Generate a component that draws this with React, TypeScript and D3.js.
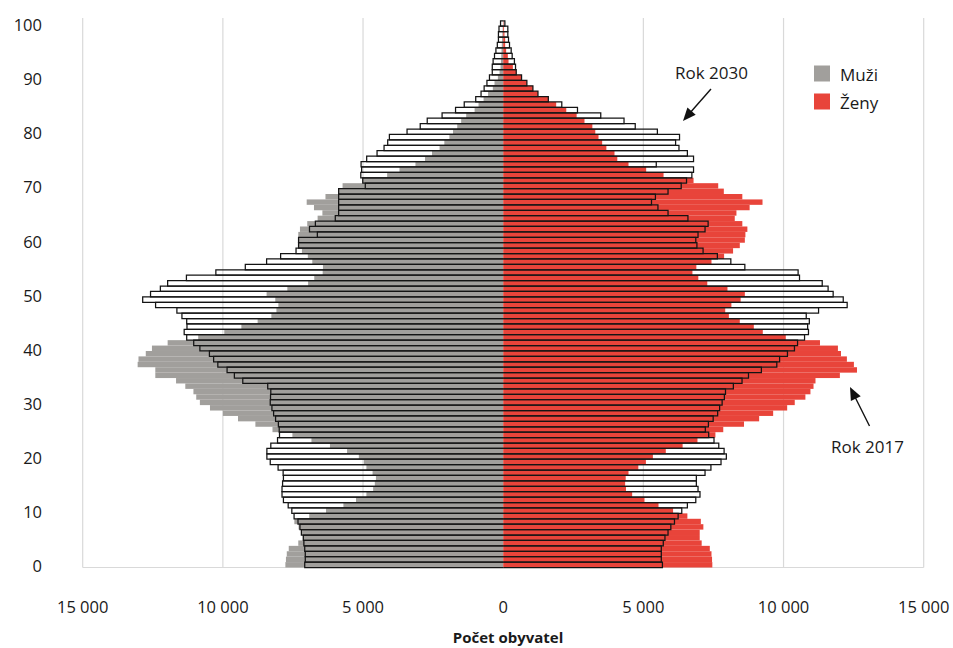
import React from "react";
import * as d3 from "d3";

// ---------- data (index = age 0..100) ----------
const ages: number[] = Array.from({ length: 101 }, (_, i) => i);

const men2017: number[] = [
  7770, 7750, 7720, 7650, 7310, 7150, 7200, 7300, 7450, 6920,
  6320, 5700, 5250, 4880, 4640, 4580, 4540, 4660, 4880, 4970,
  5150, 5570, 6180, 6840, 7520, 8230, 8840, 9460, 10000, 10460,
  10820, 10950, 11050, 11340, 11670, 12410, 12410, 13040, 13010, 12750,
  12530, 11970, 10880, 9950, 9340, 8760, 8270, 8090, 8020, 8130,
  8440, 7700, 6960, 6740, 6440, 6430, 6810, 6970, 7180, 7310,
  7310, 7310, 7250, 6990, 6620, 6450, 6750, 7010, 6340, 5870,
  5730, 5010, 4140, 3700, 3130, 2790, 2540, 2270, 2100, 1920,
  1790, 1640, 1500, 1320, 1020, 880, 700, 540, 370, 310,
  190, 130, 95, 80, 70, 60, 50, 40, 30, 20, 10,
];

const men2030: number[] = [
  7080, 7060, 7060, 7080, 7110, 7130, 7200, 7250, 7320, 7460,
  7540, 7670, 7840, 7890, 7890, 7870, 7840, 7850, 8030, 8310,
  8430, 8430, 8290, 8050, 7980, 7990, 8020, 8120, 8190, 8250,
  8310, 8300, 8290, 8400, 9290, 9590, 9850, 10180, 10330, 10480,
  10820, 11040, 11290, 11380, 11280, 11290, 11460, 11640, 12400, 12860,
  12580, 12230, 11970, 11300, 10250, 9200, 8440, 7940, 7390, 7300,
  7300, 6630, 6910, 6700, 5990, 5870, 5870, 5870, 5870, 5870,
  4920, 5010, 5080, 5050, 5070, 4870, 4500, 4250, 4120, 4060,
  3430, 2960, 2710, 2180, 1700, 1390, 980, 790, 680, 580,
  490, 390, 390, 360, 310, 260, 210, 170, 170, 150, 95,
];

const women2017: number[] = [
  7460, 7450, 7430, 7370, 7080, 7010, 7010, 7140, 7050, 6570,
  6060, 5540, 5040, 4600, 4380, 4350, 4370, 4470, 4820, 5090,
  5340, 5800, 6400, 6930, 7570, 7850, 8590, 9130, 9630, 10130,
  10400, 10780, 10960, 11070, 11140, 12010, 12620, 12510, 12260, 12050,
  11940, 11300, 10080, 9260, 8940, 8440, 8050, 7920, 8140, 8470,
  8620, 8000, 7280, 6960, 6750, 6890, 7430, 7880, 8200, 8440,
  8620, 8640, 8710, 8530, 8260, 8320, 8790, 9250, 8530, 7870,
  7670, 6790, 5720, 5100, 4470, 4070, 3970, 3680, 3530, 3400,
  3285, 3180, 2900, 2620, 2250, 1890, 1605, 1240, 1060, 845,
  655, 465, 345, 190, 165, 105, 70, 70, 45, 30, 15,
];

const women2030: number[] = [
  5680, 5640, 5640, 5640, 5710, 5770, 5880, 5980, 6110, 6240,
  6370, 6570, 6870, 7020, 6950, 6890, 6890, 7200, 7410, 7770,
  7960, 7880, 7690, 7520, 7330, 7210, 7320, 7490, 7650, 7720,
  7810, 7890, 7930, 8210, 8520, 8750, 9210, 9760, 9860, 10140,
  10390, 10500, 10750, 10890, 10860, 10920, 10810, 11250, 12270, 12130,
  11770, 11590, 11380, 10570, 10520, 8620, 8120, 7640, 7130, 6910,
  6870, 6950, 7200, 7310, 6590, 5880, 5520, 5290, 5430, 5880,
  6350, 6540, 6730, 6790, 5460, 6790, 6570, 6270, 6150, 6290,
  5500, 4710, 4310, 3480, 2650, 2090, 1610, 1240, 1060, 845,
  655, 465, 440, 400, 320, 285, 225, 190, 165, 165, 60,
];

const yTickValues: number[] = [0, 10, 20, 30, 40, 50, 60, 70, 80, 90, 100];
const xTickValues: number[] = [-15000, -10000, -5000, 0, 5000, 10000, 15000];
const xTickLabels: string[] = ["15 000", "10 000", "5 000", "0", "5 000", "10 000", "15 000"];
const gridValues: number[] = [-15000, -10000, -5000, 5000, 10000, 15000];

const legendItems = [
  { label: "Muži", color: "#a19f9c" },
  { label: "Ženy", color: "#e8443a" },
];

const FONT = "'Open Sans', 'Noto Sans', sans-serif";

export default function App() {
  const W = 953;
  const H = 648;
  const x = d3.scaleLinear().domain([-15000, 15000]).range([82.7, 923.7]);
  const y = d3
    .scaleBand<number>()
    .domain([...ages].reverse())
    .range([20.8, 567.5])
    .padding(0);
  const bw = y.bandwidth();
  const x0 = x(0);
  const grey = legendItems[0].color;
  const red = legendItems[1].color;

  // open outline (no edge on the zero axis)
  const outline = (xe: number, top: number) => {
    const p = d3.path();
    p.moveTo(x0, top);
    p.lineTo(xe, top);
    p.lineTo(xe, top + bw);
    p.lineTo(x0, top + bw);
    return p.toString();
  };

  const arrowHead = (tx: number, ty: number, fx: number, fy: number) => {
    const ang = Math.atan2(ty - fy, tx - fx);
    const len = 13;
    const half = 5.5;
    const bx = tx - len * Math.cos(ang);
    const by = ty - len * Math.sin(ang);
    const px = -Math.sin(ang) * half;
    const py = Math.cos(ang) * half;
    return `M${tx},${ty}L${bx + px},${by + py}L${bx - px},${by - py}Z`;
  };

  return (
    <svg
      width={W}
      height={H}
      style={{ position: "absolute", left: 0, top: 0, background: "#fff" }}
      fontFamily={FONT}
    >
      {/* gridlines */}
      {gridValues.map((g) => (
        <line key={g} x1={x(g)} x2={x(g)} y1={18} y2={567.5} stroke="#d9d9d9" strokeWidth={1.2} />
      ))}
      <line x1={x(-15000)} x2={x(15000)} y1={567.5} y2={567.5} stroke="#d9d9d9" strokeWidth={1.2} />

      {/* 2017 filled bars */}
      {ages.map((a) => (
        <rect key={"m17" + a} x={x(-men2017[a])} y={y(a)} width={x0 - x(-men2017[a])} height={bw} fill={grey} />
      ))}
      {ages.map((a) => (
        <rect key={"f17" + a} x={x0} y={y(a)} width={x(women2017[a]) - x0} height={bw} fill={red} />
      ))}

      {/* 2030 outlines */}
      {ages.map((a) => (
        <path key={"m30" + a} d={outline(x(-men2030[a]), y(a) as number)}
          fill="none" stroke="#141414" strokeWidth={1.25} />
      ))}
      {ages.map((a) => (
        <path key={"f30" + a} d={outline(x(women2030[a]), y(a) as number)}
          fill="none" stroke="#141414" strokeWidth={1.25} />
      ))}

      {/* y axis labels */}
      {yTickValues.map((t) => (
        <text key={"yt" + t} x={42} y={(y(t) as number) + bw / 2 + 1} textAnchor="end"
          dominantBaseline="central" fontSize={16.5} fill="#1a1a1a">{t}</text>
      ))}

      {/* x axis labels */}
      {xTickValues.map((t, i) => (
        <text key={"xt" + i} x={x(t)} y={606} textAnchor="middle" dominantBaseline="central"
          fontSize={16.5} fill="#1a1a1a">{xTickLabels[i]}</text>
      ))}
      <text x={508} y={637} textAnchor="middle" dominantBaseline="central" fontSize={15}
        fontWeight="bold" fill="#1a1a1a">Počet obyvatel</text>

      {/* legend */}
      {legendItems.map((it, i) => (
        <g key={it.label} transform={`translate(814, ${65.5 + i * 28})`}>
          <rect x={0} y={0} width={16} height={16} fill={it.color} />
          <text x={26} y={8.5} dominantBaseline="central" fontSize={17} fill="#1a1a1a">{it.label}</text>
        </g>
      ))}

      {/* annotations */}
      <text x={675} y={72} dominantBaseline="central" fontSize={17} fill="#1a1a1a">Rok 2030</text>
      <line x1={711} y1={89} x2={689} y2={114} stroke="#111" strokeWidth={1.4} />
      <path d={arrowHead(683, 121, 711, 89)} fill="#111" />

      <text x={831} y={446} dominantBaseline="central" fontSize={17} fill="#1a1a1a">Rok 2017</text>
      <line x1={869.5} y1={426} x2={854} y2={395} stroke="#111" strokeWidth={1.4} />
      <path d={arrowHead(850, 387, 869.5, 426)} fill="#111" />
    </svg>
  );
}
